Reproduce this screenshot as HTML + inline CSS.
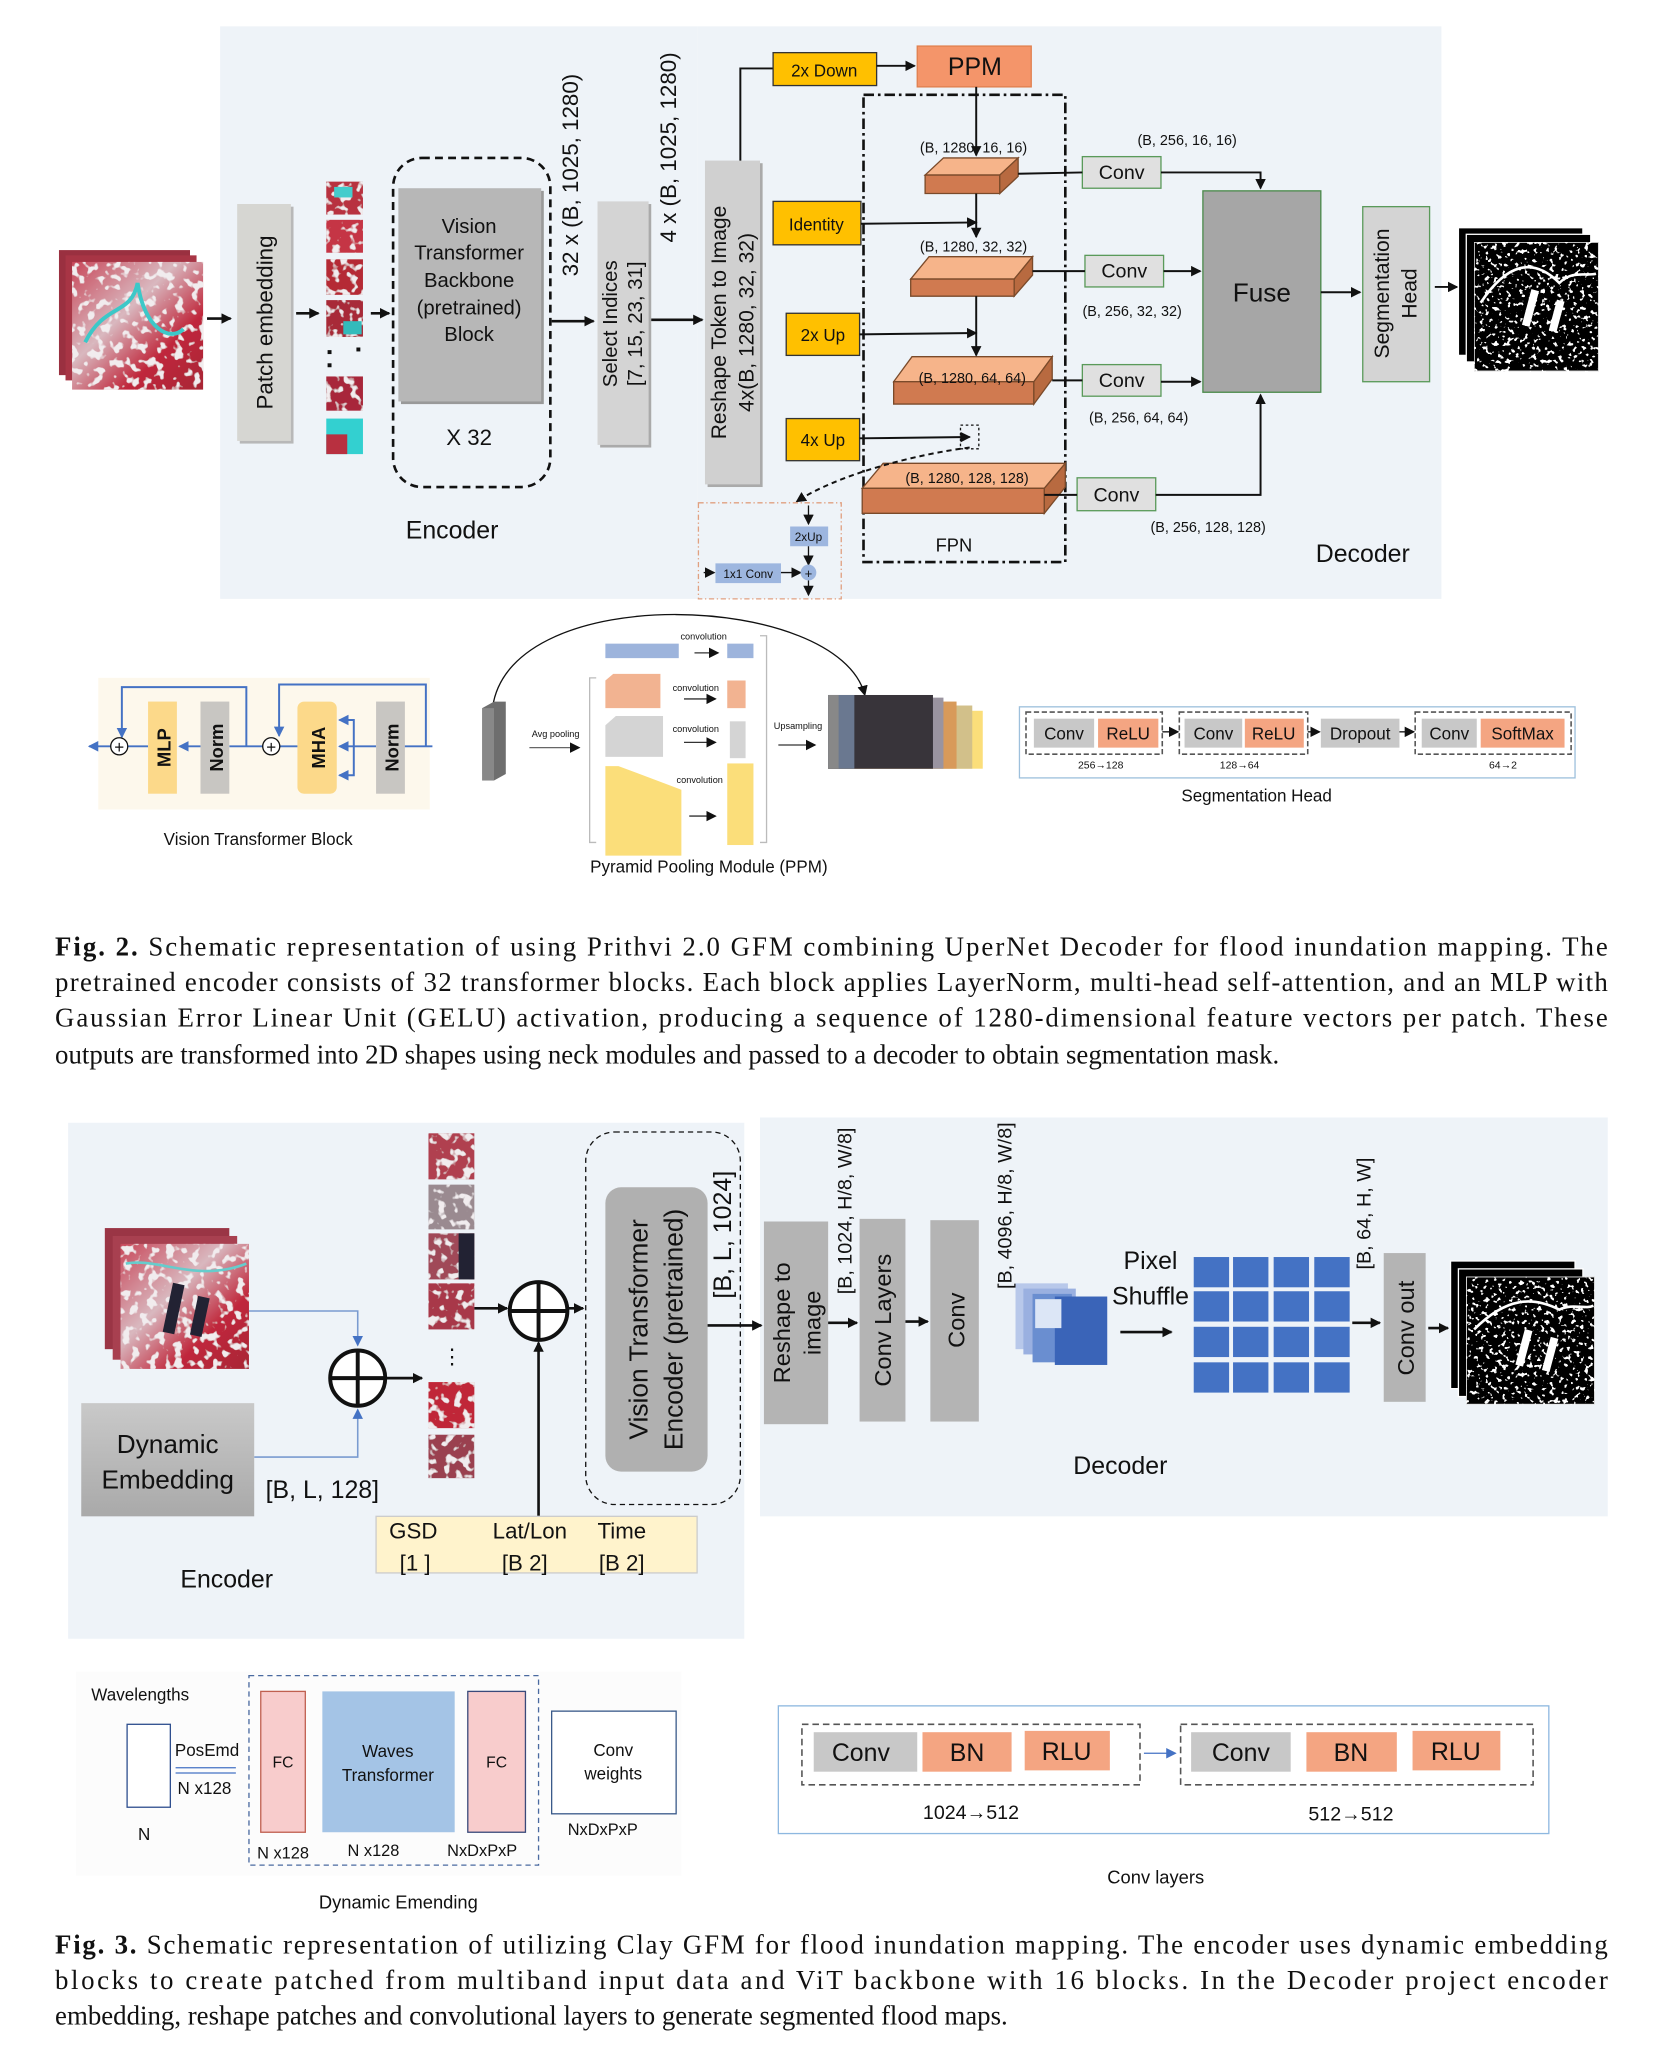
<!DOCTYPE html>
<html><head><meta charset="utf-8"><style>
html,body{margin:0;padding:0;background:#fff;}
svg{display:block;}
text{font-family:"Liberation Sans",sans-serif;fill:#111;}
.s{font-family:"Liberation Serif",serif;}
</style></head><body>
<svg width="1672" height="2056" viewBox="0 0 1276 1562" preserveAspectRatio="none" xmlns="http://www.w3.org/2000/svg">
<defs>
<marker id="a" markerWidth="8" markerHeight="8" refX="7" refY="4" orient="auto" markerUnits="userSpaceOnUse"><path d="M0,0 L8,4 L0,8z" fill="#111"/></marker>
<marker id="b" markerWidth="8" markerHeight="8" refX="7" refY="4" orient="auto" markerUnits="userSpaceOnUse"><path d="M0,0 L8,4 L0,8z" fill="#4472c4"/></marker>
<linearGradient id="sat" x1="0" y1="0" x2="1" y2="1"><stop offset="0" stop-color="#c8485a"/><stop offset="0.4" stop-color="#d9b8bf"/><stop offset="0.7" stop-color="#c0283c"/><stop offset="1" stop-color="#a82535"/></linearGradient>
<linearGradient id="de" x1="0" y1="0" x2="0" y2="1"><stop offset="0" stop-color="#c9c9c9"/><stop offset="1" stop-color="#a9a9a9"/></linearGradient>
<filter id="tex" x="0" y="0" width="1" height="1"><feTurbulence type="fractalNoise" baseFrequency="0.15" numOctaves="2" seed="3" result="n"/><feColorMatrix in="n" type="matrix" values="0 0 0 0 0.88  0 0 0 0 0.84  0 0 0 0 0.86  -10 0 0 0 4.5" result="w"/><feComposite in="w" in2="SourceGraphic" operator="in" result="c"/><feMerge><feMergeNode in="SourceGraphic"/><feMergeNode in="c"/></feMerge></filter>
<filter id="spk" x="0" y="0" width="1" height="1"><feTurbulence type="fractalNoise" baseFrequency="0.3" numOctaves="2" seed="7" result="n"/><feColorMatrix in="n" type="matrix" values="0 0 0 0 1  0 0 0 0 1  0 0 0 0 1  -16 0 0 0 6.2" result="w"/><feComposite in="w" in2="SourceGraphic" operator="in" result="c"/><feMerge><feMergeNode in="SourceGraphic"/><feMergeNode in="c"/></feMerge></filter>
</defs>

<!-- ===== FIG 2 ===== -->
<rect x="168" y="20" width="364" height="435" fill="#eef3f8"/>
<rect x="532" y="20" width="568" height="435" fill="#eef3f8"/>

<rect x="45" y="190" width="100" height="95" fill="#9a3040"/>
<rect x="50" y="194" width="100" height="95" fill="#a83545"/>
<rect x="55" y="199" width="100" height="97" fill="url(#sat)" filter="url(#tex)"/>
<path d="M65,260 C80,230 100,240 105,215 C110,250 130,260 140,250" stroke="#3cc8c8" stroke-width="3" fill="none"/>
<line x1="158" y1="242" x2="176" y2="242" stroke="#111" stroke-width="2" marker-end="url(#a)"/>

<rect x="183" y="157" width="41" height="180" fill="#b8b8b8"/>
<rect x="181" y="155" width="41" height="180" fill="#d6d6d2"/>
<text transform="translate(208,245) rotate(-90)" text-anchor="middle" font-size="17">Patch embedding</text>
<line x1="226" y1="238" x2="243" y2="238" stroke="#111" stroke-width="2" marker-end="url(#a)"/>

<g filter="url(#tex)">
<rect x="249" y="138" width="28" height="25" fill="#b83040"/>
<rect x="249" y="167" width="28" height="25" fill="#c53545"/>
<rect x="249" y="197" width="28" height="27" fill="#b52a35"/>
<rect x="249" y="228" width="28" height="28" fill="#a82a38"/>
<rect x="249" y="286" width="28" height="26" fill="#a8283a"/>
</g>
<rect x="255" y="142" width="14" height="8" fill="#4cc"/>
<rect x="262" y="244" width="14" height="10" fill="#3bb"/>
<rect x="250" y="266" width="3" height="3" fill="#111"/><rect x="272" y="264" width="3" height="3" fill="#111"/><rect x="250" y="276" width="3" height="3" fill="#111"/>
<rect x="249" y="318" width="28" height="27" fill="#33d0d0"/><rect x="249" y="330" width="16" height="15" fill="#b83040"/>
<line x1="283" y1="238" x2="297" y2="238" stroke="#111" stroke-width="2" marker-end="url(#a)"/>

<rect x="300" y="120" width="120" height="250" rx="22" fill="none" stroke="#111" stroke-width="2" stroke-dasharray="6,4"/>
<rect x="306" y="145" width="109" height="162" fill="#999"/>
<rect x="304" y="143" width="109" height="162" fill="#b7b7b7"/>
<text x="358" y="177" text-anchor="middle" font-size="15.5">Vision</text>
<text x="358" y="197" text-anchor="middle" font-size="15.5">Transformer</text>
<text x="358" y="218" text-anchor="middle" font-size="15.5">Backbone</text>
<text x="358" y="239" text-anchor="middle" font-size="15.5">(pretrained)</text>
<text x="358" y="259" text-anchor="middle" font-size="15.5">Block</text>
<text x="358" y="338" text-anchor="middle" font-size="17">X 32</text>
<text transform="translate(441,133) rotate(-90)" text-anchor="middle" font-size="17">32 x (B, 1025, 1280)</text>
<line x1="421" y1="244" x2="453" y2="244" stroke="#111" stroke-width="2" marker-end="url(#a)"/>

<rect x="458" y="155" width="39" height="185" fill="#aaa"/>
<rect x="456" y="153" width="39" height="185" fill="#d4d4d4"/>
<text transform="translate(471,246) rotate(-90)" text-anchor="middle" font-size="15.5">Select Indices</text>
<text transform="translate(490,246) rotate(-90)" text-anchor="middle" font-size="15.5">[7, 15, 23, 31]</text>
<text transform="translate(516,112) rotate(-90)" text-anchor="middle" font-size="17">4 x (B, 1025, 1280)</text>
<line x1="497" y1="243" x2="536" y2="243" stroke="#111" stroke-width="2" marker-end="url(#a)"/>

<rect x="540" y="124" width="42" height="246" fill="#aaa"/>
<rect x="538" y="122" width="42" height="246" fill="#d0d0d0"/>
<text transform="translate(554,245) rotate(-90)" text-anchor="middle" font-size="16">Reshape Token to Image</text>
<text transform="translate(575,245) rotate(-90)" text-anchor="middle" font-size="16">4x(B, 1280, 32, 32)</text>

<polyline points="565,122 565,52 590,52" fill="none" stroke="#111" stroke-width="1.5"/>
<rect x="590" y="40" width="79" height="25" fill="#ffc000" stroke="#333"/>
<text x="629" y="58" text-anchor="middle" font-size="13">2x Down</text>
<line x1="669" y1="50" x2="698" y2="50" stroke="#111" stroke-width="1.5" marker-end="url(#a)"/>
<rect x="700" y="35" width="87" height="31" fill="#f4956a" stroke="#e08050"/>
<text x="744" y="57" text-anchor="middle" font-size="19">PPM</text>

<rect x="659" y="72" width="154" height="355" fill="none" stroke="#111" stroke-width="2" stroke-dasharray="8,3,2,3"/>
<text x="728" y="419" text-anchor="middle" font-size="14">FPN</text>

<rect x="590" y="153" width="67" height="33" fill="#ffc000" stroke="#333"/>
<text x="623" y="175" text-anchor="middle" font-size="13">Identity</text>
<rect x="600" y="238" width="56" height="32" fill="#ffc000" stroke="#333"/>
<text x="628" y="259" text-anchor="middle" font-size="13">2x Up</text>
<rect x="600" y="318" width="56" height="32" fill="#ffc000" stroke="#333"/>
<text x="628" y="339" text-anchor="middle" font-size="13">4x Up</text>

<polygon points="706,133 720,120 777,120 763,133" fill="#f6b48a" stroke="#7a4a2a"/>
<polygon points="706,133 763,133 763,147 706,147" fill="#d07a50" stroke="#7a4a2a"/>
<polygon points="763,133 777,120 777,134 763,147" fill="#b86a40" stroke="#7a4a2a"/>
<text x="743" y="116" text-anchor="middle" font-size="11">(B, 1280, 16, 16)</text>
<polygon points="695,212 709,195 788,195 774,212" fill="#f6b48a" stroke="#7a4a2a"/>
<polygon points="695,212 774,212 774,225 695,225" fill="#d07a50" stroke="#7a4a2a"/>
<polygon points="774,212 788,195 788,209 774,225" fill="#b86a40" stroke="#7a4a2a"/>
<text x="743" y="191" text-anchor="middle" font-size="11">(B, 1280, 32, 32)</text>
<polygon points="682,290 696,271 803,271 789,290" fill="#f6b48a" stroke="#7a4a2a"/>
<polygon points="682,290 789,290 789,307 682,307" fill="#d07a50" stroke="#7a4a2a"/>
<polygon points="789,290 803,271 803,288 789,307" fill="#b86a40" stroke="#7a4a2a"/>
<text x="742" y="291" text-anchor="middle" font-size="11">(B, 1280, 64, 64)</text>
<polygon points="658,371 674,352 813,352 797,371" fill="#f6b48a" stroke="#7a4a2a"/>
<polygon points="658,371 797,371 797,390 658,390" fill="#d07a50" stroke="#7a4a2a"/>
<polygon points="797,371 813,352 813,370 797,390" fill="#b86a40" stroke="#7a4a2a"/>
<text x="738" y="367" text-anchor="middle" font-size="11">(B, 1280, 128, 128)</text>

<line x1="745" y1="66" x2="745" y2="118" stroke="#111" stroke-width="1.5" marker-end="url(#a)"/>
<line x1="745" y1="147" x2="745" y2="180" stroke="#111" stroke-width="1.5" marker-end="url(#a)"/>
<line x1="745" y1="225" x2="745" y2="270" stroke="#111" stroke-width="1.5" marker-end="url(#a)"/>
<line x1="657" y1="170" x2="745" y2="169" stroke="#111" stroke-width="1.5" marker-end="url(#a)"/>
<line x1="656" y1="254" x2="745" y2="253" stroke="#111" stroke-width="1.5" marker-end="url(#a)"/>
<line x1="656" y1="333" x2="740" y2="332" stroke="#111" stroke-width="1.5" marker-end="url(#a)"/>
<rect x="733" y="323" width="14" height="18" fill="none" stroke="#111" stroke-dasharray="2,2"/>
<path d="M740,340 C700,345 640,360 608,381" fill="none" stroke="#111" stroke-width="1.5" stroke-dasharray="4,3" marker-end="url(#a)"/>

<rect x="533" y="382" width="109" height="73" fill="none" stroke="#e0a080" stroke-dasharray="4,2,1,2"/>
<line x1="617" y1="384" x2="617" y2="398" stroke="#111" marker-end="url(#a)"/>
<rect x="603" y="400" width="29" height="15" fill="#9db6df"/>
<text x="617" y="411" text-anchor="middle" font-size="9">2xUp</text>
<rect x="546" y="428" width="50" height="15" fill="#9db6df"/>
<text x="571" y="439" text-anchor="middle" font-size="9">1x1 Conv</text>
<line x1="537" y1="435" x2="545" y2="435" stroke="#111" marker-end="url(#a)"/>
<line x1="596" y1="435" x2="611" y2="435" stroke="#111" marker-end="url(#a)"/>
<line x1="617" y1="415" x2="617" y2="429" stroke="#111" marker-end="url(#a)"/>
<circle cx="617" cy="435" r="6" fill="#9db6df"/>
<text x="617" y="439" text-anchor="middle" font-size="10">+</text>
<line x1="617" y1="441" x2="617" y2="452" stroke="#111" marker-end="url(#a)"/>

<g font-size="15">
<rect x="826" y="119" width="60" height="24" fill="#e0e0e0" stroke="#5a9a5a"/><text x="856" y="136" text-anchor="middle">Conv</text>
<rect x="828" y="194" width="60" height="24" fill="#e0e0e0" stroke="#5a9a5a"/><text x="858" y="211" text-anchor="middle">Conv</text>
<rect x="826" y="277" width="60" height="24" fill="#e0e0e0" stroke="#5a9a5a"/><text x="856" y="294" text-anchor="middle">Conv</text>
<rect x="822" y="363" width="60" height="25" fill="#e0e0e0" stroke="#5a9a5a"/><text x="852" y="381" text-anchor="middle">Conv</text>
</g>
<line x1="777" y1="132" x2="826" y2="131" stroke="#111" stroke-width="1.5"/>
<line x1="788" y1="206" x2="828" y2="206" stroke="#111" stroke-width="1.5"/>
<line x1="803" y1="289" x2="826" y2="289" stroke="#111" stroke-width="1.5"/>
<line x1="797" y1="376" x2="822" y2="376" stroke="#111" stroke-width="1.5"/>
<g font-size="11">
<text x="906" y="110" text-anchor="middle">(B, 256, 16, 16)</text>
<text x="864" y="240" text-anchor="middle">(B, 256, 32, 32)</text>
<text x="869" y="321" text-anchor="middle">(B, 256, 64, 64)</text>
<text x="922" y="404" text-anchor="middle">(B, 256, 128, 128)</text>
</g>
<rect x="918" y="145" width="90" height="153" fill="#a6a6a6" stroke="#4a8a4a"/>
<text x="963" y="229" text-anchor="middle" font-size="20">Fuse</text>
<polyline points="886,131 962,131 962,143" fill="none" stroke="#111" stroke-width="1.5" marker-end="url(#a)"/>
<line x1="888" y1="206" x2="916" y2="206" stroke="#111" stroke-width="1.5" marker-end="url(#a)"/>
<line x1="886" y1="290" x2="916" y2="290" stroke="#111" stroke-width="1.5" marker-end="url(#a)"/>
<polyline points="882,376 962,376 962,300" fill="none" stroke="#111" stroke-width="1.5" marker-end="url(#a)"/>
<line x1="1008" y1="222" x2="1038" y2="222" stroke="#111" stroke-width="1.5" marker-end="url(#a)"/>
<rect x="1040" y="157" width="51" height="133" fill="#d4d4d4" stroke="#5a9a5a"/>
<text transform="translate(1060,223) rotate(-90)" text-anchor="middle" font-size="16">Segmentation</text>
<text transform="translate(1081,223) rotate(-90)" text-anchor="middle" font-size="16">Head</text>
<line x1="1095" y1="218" x2="1112" y2="218" stroke="#111" stroke-width="1.5" marker-end="url(#a)"/>
<rect x="1113" y="173" width="95" height="97" fill="#000" stroke="#fff"/>
<rect x="1119" y="178" width="95" height="97" fill="#000" stroke="#fff"/>
<rect x="1125" y="184" width="95" height="98" fill="#000" stroke="#ddd" filter="url(#spk)"/>
<path d="M1130,230 C1150,200 1170,195 1190,215 C1200,205 1210,210 1218,208" stroke="#fff" stroke-width="2" fill="none"/>
<rect x="1165" y="220" width="6" height="28" fill="#fff" transform="rotate(15 1168 234)"/>
<rect x="1185" y="228" width="6" height="24" fill="#fff" transform="rotate(15 1188 240)"/>
<text x="345" y="409" text-anchor="middle" font-size="19">Encoder</text>
<text x="1040" y="427" text-anchor="middle" font-size="19">Decoder</text>

<rect x="75" y="515" width="253" height="100" fill="#fdf8ec"/>
<g stroke="#4472c4" stroke-width="1.5" fill="none">
<line x1="330" y1="567" x2="300" y2="567" marker-end="url(#b)"/>
<line x1="287" y1="567" x2="259" y2="567" marker-end="url(#b)"/>
<polyline points="325,567 325,520 213,520 213,559" marker-end="url(#b)"/>
<polyline points="270,567 270,547 259,547" marker-end="url(#b)"/>
<polyline points="270,567 270,589 259,589" marker-end="url(#b)"/>
<line x1="227" y1="567" x2="213" y2="567"/>
<line x1="201" y1="567" x2="175" y2="567"/>
<line x1="153" y1="567" x2="137" y2="567" marker-end="url(#b)"/>
<polyline points="188,567 188,522 93,522 93,560" marker-end="url(#b)"/>
<line x1="113" y1="567" x2="97" y2="567"/>
<line x1="85" y1="567" x2="68" y2="567" marker-end="url(#b)"/>
</g>
<circle cx="91" cy="567" r="6.5" fill="#fff" stroke="#111"/><text x="91" y="572" text-anchor="middle" font-size="13">+</text>
<circle cx="207" cy="567" r="6.5" fill="#fff" stroke="#111"/><text x="207" y="572" text-anchor="middle" font-size="13">+</text>
<rect x="113" y="533" width="22" height="70" fill="#fcd98a"/>
<text transform="translate(130,568) rotate(-90)" text-anchor="middle" font-size="14" font-weight="bold">MLP</text>
<rect x="153" y="533" width="22" height="70" fill="#c8c6c2"/>
<text transform="translate(170,568) rotate(-90)" text-anchor="middle" font-size="14" font-weight="bold">Norm</text>
<rect x="227" y="533" width="30" height="70" rx="5" fill="#fcd98a"/>
<text transform="translate(248,568) rotate(-90)" text-anchor="middle" font-size="14" font-weight="bold">MHA</text>
<rect x="287" y="533" width="22" height="70" fill="#c8c6c2"/>
<text transform="translate(304,568) rotate(-90)" text-anchor="middle" font-size="14" font-weight="bold">Norm</text>
<text x="197" y="642" text-anchor="middle" font-size="13">Vision Transformer Block</text>

<path d="M376,537 C390,440 640,450 660,528" fill="none" stroke="#111" marker-end="url(#a)"/>
<polygon points="368,538 377,533 386,533 386,588 377,593 368,593" fill="#6e6e6e"/>
<rect x="368" y="538" width="9" height="55" fill="#888"/>
<text x="424" y="560" text-anchor="middle" font-size="7">Avg pooling</text>
<line x1="404" y1="568" x2="442" y2="568" stroke="#666" marker-end="url(#a)"/>
<path d="M455,515 L450,515 L450,640 L455,640" fill="none" stroke="#bbb"/>
<path d="M580,483 L585,483 L585,640 L580,640" fill="none" stroke="#bbb"/>
<rect x="462" y="489" width="56" height="11" fill="#9db4dc"/>
<rect x="555" y="489" width="20" height="11" fill="#9db4dc"/>
<text x="537" y="486" text-anchor="middle" font-size="7">convolution</text>
<line x1="530" y1="496" x2="548" y2="496" stroke="#333" marker-end="url(#a)"/>
<polygon points="462,517 468,512 504,512 504,538 462,538" fill="#f2b391"/>
<rect x="555" y="517" width="14" height="21" fill="#f2b391"/>
<text x="531" y="525" text-anchor="middle" font-size="7">convolution</text>
<line x1="522" y1="531" x2="546" y2="531" stroke="#333" marker-end="url(#a)"/>
<polygon points="462,551 470,544 506,544 506,575 462,575" fill="#d4d4d4"/>
<rect x="557" y="548" width="12" height="28" fill="#d4d4d4"/>
<text x="531" y="556" text-anchor="middle" font-size="7">convolution</text>
<line x1="522" y1="564" x2="546" y2="564" stroke="#333" marker-end="url(#a)"/>
<polygon points="462,582 472,582 520,600 520,650 462,650" fill="#fbde7a"/>
<rect x="555" y="580" width="20" height="62" fill="#fbde7a"/>
<text x="534" y="595" text-anchor="middle" font-size="7">convolution</text>
<line x1="526" y1="620" x2="546" y2="620" stroke="#333" marker-end="url(#a)"/>
<text x="609" y="554" text-anchor="middle" font-size="7">Upsampling</text>
<line x1="594" y1="566" x2="622" y2="566" stroke="#333" marker-end="url(#a)"/>
<rect x="632" y="540" width="118" height="44" fill="#fbde7a"/>
<rect x="632" y="536" width="110" height="48" fill="#d2c08a"/>
<rect x="632" y="533" width="98" height="51" fill="#d89a5a"/>
<rect x="632" y="530" width="88" height="54" fill="#9a94a0"/>
<rect x="632" y="528" width="80" height="56" fill="#38343a"/>
<rect x="632" y="528" width="20" height="56" fill="#6a7890"/>
<rect x="632" y="528" width="8" height="56" fill="#888"/>
<text x="541" y="663" text-anchor="middle" font-size="13">Pyramid Pooling Module (PPM)</text>

<rect x="778" y="537" width="424" height="54" fill="#fff" stroke="#9ec0dc"/>
<g fill="none" stroke="#555" stroke-dasharray="4,2" stroke-width="1.2">
<rect x="783" y="541" width="104" height="32"/>
<rect x="900" y="541" width="98" height="32"/>
<rect x="1080" y="541" width="119" height="32"/>
</g>
<g font-size="13">
<rect x="789" y="546" width="46" height="22" fill="#c8c8c8"/><text x="812" y="562" text-anchor="middle">Conv</text>
<rect x="838" y="546" width="46" height="22" fill="#f4a582"/><text x="861" y="562" text-anchor="middle">ReLU</text>
<rect x="904" y="546" width="44" height="22" fill="#c8c8c8"/><text x="926" y="562" text-anchor="middle">Conv</text>
<rect x="950" y="546" width="45" height="22" fill="#f4a582"/><text x="972" y="562" text-anchor="middle">ReLU</text>
<rect x="1008" y="546" width="60" height="22" fill="#c8c8c8"/><text x="1038" y="562" text-anchor="middle">Dropout</text>
<rect x="1085" y="546" width="42" height="22" fill="#c8c8c8"/><text x="1106" y="562" text-anchor="middle">Conv</text>
<rect x="1130" y="546" width="64" height="22" fill="#f4a582"/><text x="1162" y="562" text-anchor="middle">SoftMax</text>
</g>
<line x1="887" y1="556" x2="899" y2="556" stroke="#111" marker-end="url(#a)"/>
<line x1="998" y1="556" x2="1007" y2="556" stroke="#111" marker-end="url(#a)"/>
<line x1="1068" y1="556" x2="1079" y2="556" stroke="#111" marker-end="url(#a)"/>
<text x="840" y="584" text-anchor="middle" font-size="8">256→128</text>
<text x="946" y="584" text-anchor="middle" font-size="8">128→64</text>
<text x="1147" y="584" text-anchor="middle" font-size="8">64→2</text>
<text x="959" y="609" text-anchor="middle" font-size="13">Segmentation Head</text>

<g font-size="20.5">
<text x="42" y="726" textLength="1185" lengthAdjust="spacing" class="s"><tspan font-weight="bold">Fig. 2.</tspan> Schematic representation of using Prithvi 2.0 GFM combining UperNet Decoder for flood inundation mapping. The</text>
<text x="42" y="753" textLength="1185" lengthAdjust="spacing" class="s">pretrained encoder consists of 32 transformer blocks. Each block applies LayerNorm, multi-head self-attention, and an MLP with</text>
<text x="42" y="780" textLength="1185" lengthAdjust="spacing" class="s">Gaussian Error Linear Unit (GELU) activation, producing a sequence of 1280-dimensional feature vectors per patch. These</text>
<text x="42" y="808" class="s">outputs are transformed into 2D shapes using neck modules and passed to a decoder to obtain segmentation mask.</text>
</g>

<!-- ===== FIG 3 ===== -->
<rect x="52" y="853" width="516" height="392" fill="#eef3f8"/>
<rect x="580" y="849" width="647" height="303" fill="#eef3f8"/>

<rect x="80" y="933" width="95" height="92" fill="#9a3545"/>
<rect x="86" y="939" width="95" height="94" fill="#a84050"/>
<rect x="92" y="945" width="98" height="95" fill="url(#sat)" filter="url(#tex)"/>
<rect x="128" y="975" width="9" height="38" fill="#223" transform="rotate(12 132 994)"/>
<rect x="148" y="985" width="9" height="30" fill="#223" transform="rotate(12 152 1000)"/>
<path d="M96,960 C120,955 150,975 188,960" stroke="#6cc" stroke-width="2" fill="none"/>

<polyline points="190,996 273,996 273,1022" fill="none" stroke="#7a9bd0" stroke-width="1.2" marker-end="url(#b)"/>
<polyline points="194,1107 273,1107 273,1071" fill="none" stroke="#7a9bd0" stroke-width="1.2" marker-end="url(#b)"/>
<circle cx="273" cy="1047" r="21" fill="#fff" stroke="#111" stroke-width="3"/>
<line x1="252" y1="1047" x2="294" y2="1047" stroke="#111" stroke-width="3"/><line x1="273" y1="1026" x2="273" y2="1068" stroke="#111" stroke-width="3"/>
<line x1="294" y1="1047" x2="322" y2="1047" stroke="#111" stroke-width="2" marker-end="url(#a)"/>

<rect x="62" y="1066" width="132" height="86" fill="url(#de)"/>
<text x="128" y="1104" text-anchor="middle" font-size="20">Dynamic</text>
<text x="128" y="1131" text-anchor="middle" font-size="20">Embedding</text>
<text x="246" y="1138" text-anchor="middle" font-size="19">[B, L, 128]</text>

<g filter="url(#tex)">
<rect x="327" y="861" width="35" height="35" fill="#b04050"/>
<rect x="327" y="900" width="35" height="34" fill="#9a8a90"/>
<rect x="327" y="937" width="35" height="35" fill="#a04858"/>
<rect x="327" y="975" width="35" height="35" fill="#a83848"/>
<rect x="327" y="1050" width="35" height="35" fill="#c02838"/>
<rect x="327" y="1090" width="35" height="33" fill="#9a4050"/>
</g>
<rect x="350" y="937" width="12" height="35" fill="#223"/>
<text x="345" y="1036" text-anchor="middle" font-size="16">⋮</text>
<line x1="362" y1="994" x2="387" y2="994" stroke="#111" stroke-width="2" marker-end="url(#a)"/>
<circle cx="411" cy="996" r="22" fill="#fff" stroke="#111" stroke-width="3"/>
<line x1="389" y1="996" x2="433" y2="996" stroke="#111" stroke-width="3"/><line x1="411" y1="974" x2="411" y2="1018" stroke="#111" stroke-width="3"/>
<line x1="433" y1="994" x2="445" y2="994" stroke="#111" stroke-width="2" marker-end="url(#a)"/>
<line x1="411" y1="1152" x2="411" y2="1020" stroke="#111" stroke-width="2" marker-end="url(#a)"/>

<rect x="447" y="860" width="118" height="283" rx="22" fill="none" stroke="#111" stroke-dasharray="4,3"/>
<rect x="462" y="902" width="78" height="216" rx="12" fill="#b0b0b0"/>
<text transform="translate(494,1010) rotate(-90)" text-anchor="middle" font-size="20">Vision Transformer</text>
<text transform="translate(521,1010) rotate(-90)" text-anchor="middle" font-size="20">Encoder (pretrained)</text>
<text transform="translate(558,938) rotate(-90)" text-anchor="middle" font-size="19">[B, L, 1024]</text>

<rect x="287" y="1152" width="245" height="43" fill="#fff3cc" stroke="#ccc"/>
<g font-size="17">
<text x="297" y="1169">GSD</text><text x="305" y="1193">[1 ]</text>
<text x="376" y="1169">Lat/Lon</text><text x="383" y="1193">[B 2]</text>
<text x="456" y="1169">Time</text><text x="457" y="1193">[B 2]</text>
</g>
<text x="173" y="1206" text-anchor="middle" font-size="19">Encoder</text>

<line x1="540" y1="1007" x2="581" y2="1007" stroke="#111" stroke-width="2" marker-end="url(#a)"/>
<rect x="583" y="928" width="49" height="154" fill="#b4b4b4"/>
<text transform="translate(603,1005) rotate(-90)" text-anchor="middle" font-size="18">Reshape to</text>
<text transform="translate(626,1005) rotate(-90)" text-anchor="middle" font-size="18">image</text>
<text transform="translate(650,920) rotate(-90)" text-anchor="middle" font-size="15">[B, 1024, H/8, W/8]</text>
<line x1="632" y1="1005" x2="654" y2="1005" stroke="#111" stroke-width="2" marker-end="url(#a)"/>
<rect x="656" y="926" width="35" height="154" fill="#b4b4b4"/>
<text transform="translate(680,1003) rotate(-90)" text-anchor="middle" font-size="18">Conv Layers</text>
<line x1="691" y1="1004" x2="708" y2="1004" stroke="#111" stroke-width="2" marker-end="url(#a)"/>
<rect x="710" y="927" width="37" height="153" fill="#b4b4b4"/>
<text transform="translate(736,1003) rotate(-90)" text-anchor="middle" font-size="18">Conv</text>
<text transform="translate(772,916) rotate(-90)" text-anchor="middle" font-size="15">[B, 4096, H/8, W/8]</text>

<rect x="775" y="975" width="40" height="50" fill="#b8c8ea"/>
<rect x="781" y="979" width="40" height="50" fill="#9ab0e0"/>
<rect x="788" y="983" width="30" height="52" fill="#6a8ed0"/>
<rect x="805" y="985" width="40" height="52" fill="#3a64b8"/>
<rect x="790" y="987" width="20" height="22" fill="#dce6f6"/>
<text x="878" y="964" text-anchor="middle" font-size="19">Pixel</text>
<text x="878" y="991" text-anchor="middle" font-size="19">Shuffle</text>
<line x1="855" y1="1012" x2="894" y2="1012" stroke="#111" stroke-width="2" marker-end="url(#a)"/>
<g fill="#4472c4">
<rect x="911" y="955" width="27" height="23"/><rect x="941" y="955" width="27" height="23"/><rect x="972" y="955" width="27" height="23"/><rect x="1003" y="955" width="27" height="23"/>
<rect x="911" y="981" width="27" height="23"/><rect x="941" y="981" width="27" height="23"/><rect x="972" y="981" width="27" height="23"/><rect x="1003" y="981" width="27" height="23"/>
<rect x="911" y="1008" width="27" height="23"/><rect x="941" y="1008" width="27" height="23"/><rect x="972" y="1008" width="27" height="23"/><rect x="1003" y="1008" width="27" height="23"/>
<rect x="911" y="1035" width="27" height="23"/><rect x="941" y="1035" width="27" height="23"/><rect x="972" y="1035" width="27" height="23"/><rect x="1003" y="1035" width="27" height="23"/>
</g>
<text transform="translate(1046,922) rotate(-90)" text-anchor="middle" font-size="15">[B, 64, H, W]</text>
<line x1="1032" y1="1005" x2="1053" y2="1005" stroke="#111" stroke-width="2" marker-end="url(#a)"/>
<rect x="1056" y="952" width="32" height="113" fill="#b4b4b4"/>
<text transform="translate(1079,1009) rotate(-90)" text-anchor="middle" font-size="18">Conv out</text>
<line x1="1090" y1="1009" x2="1105" y2="1009" stroke="#111" stroke-width="2" marker-end="url(#a)"/>
<rect x="1107" y="958" width="95" height="97" fill="#000" stroke="#fff"/>
<rect x="1113" y="964" width="95" height="97" fill="#000" stroke="#fff"/>
<rect x="1119" y="970" width="98" height="97" fill="#000" stroke="#ddd" filter="url(#spk)"/>
<path d="M1125,1010 C1150,985 1170,985 1190,995 C1200,990 1210,995 1216,992" stroke="#fff" stroke-width="2" fill="none"/>
<rect x="1160" y="1010" width="6" height="28" fill="#fff" transform="rotate(15 1163 1024)"/>
<rect x="1180" y="1016" width="6" height="26" fill="#fff" transform="rotate(15 1183 1029)"/>
<text x="855" y="1120" text-anchor="middle" font-size="19">Decoder</text>

<rect x="58" y="1270" width="462" height="155" fill="#fcfcfc"/>
<text x="107" y="1292" text-anchor="middle" font-size="13">Wavelengths</text>
<rect x="97" y="1310" width="33" height="63" fill="#fff" stroke="#2f4f8f"/>
<text x="158" y="1334" text-anchor="middle" font-size="13">PosEmd</text>
<line x1="134" y1="1343" x2="180" y2="1343" stroke="#4472c4"/><line x1="134" y1="1347" x2="180" y2="1347" stroke="#4472c4"/>
<text x="156" y="1363" text-anchor="middle" font-size="13">N x128</text>
<text x="110" y="1398" text-anchor="middle" font-size="13">N</text>
<rect x="190" y="1273" width="221" height="144" fill="none" stroke="#4a6aa0" stroke-dasharray="4,3"/>
<rect x="199" y="1285" width="34" height="107" fill="#f8cccc" stroke="#c06050"/>
<text x="216" y="1343" text-anchor="middle" font-size="12">FC</text>
<rect x="246" y="1285" width="101" height="107" fill="#a4c4e6"/>
<text x="296" y="1335" text-anchor="middle" font-size="13">Waves</text>
<text x="296" y="1353" text-anchor="middle" font-size="13">Transformer</text>
<rect x="357" y="1285" width="44" height="107" fill="#f8cccc" stroke="#3a4a7a"/>
<text x="379" y="1343" text-anchor="middle" font-size="12">FC</text>
<rect x="421" y="1300" width="95" height="78" fill="#fff" stroke="#3a5a8a"/>
<text x="468" y="1334" text-anchor="middle" font-size="13">Conv</text>
<text x="468" y="1352" text-anchor="middle" font-size="13">weights</text>
<g font-size="12.5">
<text x="216" y="1412" text-anchor="middle">N x128</text>
<text x="285" y="1410" text-anchor="middle">N x128</text>
<text x="368" y="1410" text-anchor="middle">NxDxPxP</text>
<text x="460" y="1394" text-anchor="middle">NxDxPxP</text>
</g>
<text x="304" y="1450" text-anchor="middle" font-size="14">Dynamic Emending</text>

<rect x="594" y="1296" width="588" height="97" fill="#fff" stroke="#8eb8e0"/>
<g fill="none" stroke="#555" stroke-dasharray="5,3" stroke-width="1.2">
<rect x="612" y="1310" width="258" height="46"/>
<rect x="901" y="1310" width="269" height="46"/>
</g>
<g font-size="19">
<rect x="621" y="1316" width="79" height="30" fill="#c8c8c8"/><text x="657" y="1338" text-anchor="middle">Conv</text>
<rect x="704" y="1316" width="68" height="30" fill="#f4a582"/><text x="738" y="1338" text-anchor="middle">BN</text>
<rect x="782" y="1315" width="65" height="30" fill="#f4a582"/><text x="814" y="1337" text-anchor="middle">RLU</text>
<rect x="909" y="1316" width="76" height="30" fill="#c8c8c8"/><text x="947" y="1338" text-anchor="middle">Conv</text>
<rect x="997" y="1316" width="69" height="30" fill="#f4a582"/><text x="1031" y="1338" text-anchor="middle">BN</text>
<rect x="1078" y="1315" width="67" height="30" fill="#f4a582"/><text x="1111" y="1337" text-anchor="middle">RLU</text>
</g>
<line x1="873" y1="1332" x2="897" y2="1332" stroke="#4472c4" marker-end="url(#b)"/>
<text x="741" y="1382" text-anchor="middle" font-size="15">1024→512</text>
<text x="1031" y="1383" text-anchor="middle" font-size="15">512→512</text>
<text x="882" y="1431" text-anchor="middle" font-size="14">Conv layers</text>

<g font-size="20.5">
<text x="42" y="1484" textLength="1185" lengthAdjust="spacing" class="s"><tspan font-weight="bold">Fig. 3.</tspan> Schematic representation of utilizing Clay GFM for flood inundation mapping. The encoder uses dynamic embedding</text>
<text x="42" y="1511" textLength="1185" lengthAdjust="spacing" class="s">blocks to create patched from multiband input data and ViT backbone with 16 blocks. In the Decoder project encoder</text>
<text x="42" y="1538" class="s">embedding, reshape patches and convolutional layers to generate segmented flood maps.</text>
</g>
</svg>
</body></html>
